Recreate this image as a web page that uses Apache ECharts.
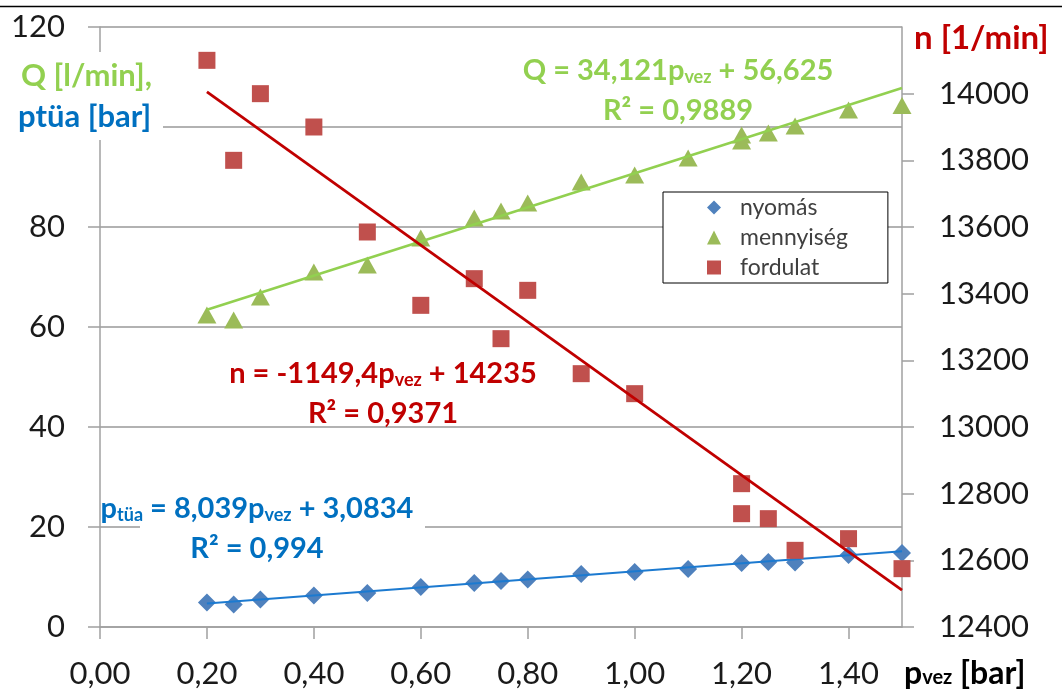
<!DOCTYPE html>
<html>
<head>
<meta charset="utf-8">
<script src="https://cdn.jsdelivr.net/npm/echarts@6/dist/echarts.min.js"></script>
<style>
  html, body { margin: 0; padding: 0; background: #fff; }
  #chart { width: 1062px; height: 691px; }
</style>
</head>
<body>
<div id="chart"></div>
<script>
// ---- data ----
const pNyomas = [0.2, 0.25, 0.3, 0.4, 0.5, 0.6, 0.7, 0.75, 0.8, 0.9, 1.0, 1.1, 1.2, 1.25, 1.3, 1.4, 1.5];
const nyomas  = [4.9, 4.5, 5.5, 6.3, 6.8, 8.0, 8.8, 9.2, 9.5, 10.6, 11.0, 11.6, 12.8, 13.0, 12.9, 14.4, 14.8];

const pMenny = [0.2, 0.25, 0.3, 0.4, 0.5, 0.6, 0.7, 0.75, 0.8, 0.9, 1.0, 1.1, 1.2, 1.2, 1.25, 1.3, 1.4, 1.5];
const menny  = [62.4, 61.4, 66.0, 71.0, 72.4, 77.8, 81.8, 83.2, 84.8, 89.0, 90.4, 93.8, 97.2, 98.4, 98.8, 100.2, 103.4, 104.3];

const pFord = [0.2, 0.25, 0.3, 0.4, 0.5, 0.6, 0.7, 0.75, 0.8, 0.9, 1.0, 1.2, 1.2, 1.25, 1.3, 1.4, 1.5];
const ford  = [14100, 13800, 14000, 13900, 13585, 13365, 13445, 13265, 13410, 13160, 13100, 12830, 12740, 12725, 12630, 12665, 12575];

// trendline coefficients as printed on the chart
const trendNyomas = { slope: 8.039, intercept: 3.0834 };
const trendMenny  = { slope: 34.121, intercept: 56.625 };
const trendFord   = { slope: -1149.4, intercept: 14235 };
const trendRange  = [0.2, 1.5];

const legendNames = ['nyomás', 'mennyiség', 'fordulat'];

const zip = (xs, ys) => xs.map((x, i) => [x, ys[i]]);
const trend = (c) => trendRange.map(x => [x, c.slope * x + c.intercept]);

const FONT = 'Lato, "Open Sans", sans-serif';
const axisGray = '#a0a0a0';

const chart = echarts.init(document.getElementById('chart'), null, { renderer: 'canvas' });

const eqRich = (color, big, small) => ({
  m: { fontFamily: FONT, fontWeight: 'bold', fontSize: big || 29, fill: color, lineHeight: 30, verticalAlign: 'top' },
  s: { fontFamily: FONT, fontWeight: 'bold', fontSize: small || 18, fill: color, lineHeight: 12, verticalAlign: 'bottom' },
  r: { fontFamily: FONT, fontWeight: 'bold', fontSize: big || 29, fill: color, lineHeight: 50, verticalAlign: 'middle' }
});

const option = {
  backgroundColor: '#ffffff',
  animation: false,
  grid: { left: 100, right: 160, top: 27, bottom: 64, containLabel: false },
  legend: {
    orient: 'vertical',
    left: 663, top: 192,
    data: [
      { name: legendNames[0], icon: 'diamond' },
      { name: legendNames[1], icon: 'triangle' },
      { name: legendNames[2], icon: 'rect' }
    ],
    itemWidth: 14, itemHeight: 14, itemGap: 7,
    padding: [4, 40, 4, 44],
    backgroundColor: '#ffffff',
    borderColor: '#000000', borderWidth: 1,
    textStyle: { fontFamily: FONT, fontSize: 23, color: '#404040', padding: [0, 0, 0, 14] },
    selectedMode: false
  },
  xAxis: {
    type: 'value', min: 0, max: 1.5, interval: 0.2,
    axisLine: { show: true, lineStyle: { color: axisGray, width: 1.5 } },
    axisTick: { show: true, length: 12, inside: false, lineStyle: { color: axisGray, width: 1.5 } },
    splitLine: { show: false },
    axisLabel: {
      margin: 31, fontFamily: FONT, fontSize: 31, color: '#1a1a1a',
      showMaxLabel: false,
      formatter: v => v.toFixed(2).replace('.', ',')
    }
  },
  yAxis: [
    {
      type: 'value', min: 0, max: 120, interval: 20, position: 'left',
      axisLine: { show: true, lineStyle: { color: axisGray, width: 1.5 } },
      axisTick: { show: true, length: 12, inside: false, lineStyle: { color: axisGray, width: 1.5 } },
      splitLine: { show: true, lineStyle: { color: '#999999', width: 1.5 } },
      axisLabel: { margin: 35, fontFamily: FONT, fontSize: 31, color: '#1a1a1a', formatter: v => String(v) }
    },
    {
      type: 'value', min: 12400, max: 14200, interval: 200, position: 'right',
      axisLine: { show: true, lineStyle: { color: axisGray, width: 1.5 } },
      axisTick: { show: true, length: 12, inside: false, lineStyle: { color: axisGray, width: 1.5 } },
      splitLine: { show: false },
      axisLabel: { margin: 37, fontFamily: FONT, fontSize: 31, color: '#1a1a1a', showMaxLabel: false, formatter: v => String(v) }
    }
  ],
  series: [
    {
      name: legendNames[0], type: 'scatter', yAxisIndex: 0,
      symbol: 'diamond', symbolSize: 18,
      itemStyle: { color: '#4f81bd', opacity: 1 },
      data: zip(pNyomas, nyomas), z: 2
    },
    {
      name: 'trend-nyomas', type: 'line', yAxisIndex: 0, symbol: 'none',
      lineStyle: { color: '#1c7ad0', width: 2 },
      data: trend(trendNyomas), z: 3, silent: true
    },
    {
      name: legendNames[1], type: 'scatter', yAxisIndex: 0,
      symbol: 'triangle', symbolSize: [19, 17],
      itemStyle: { color: '#9bbb59', opacity: 1 },
      data: zip(pMenny, menny), z: 4
    },
    {
      name: 'trend-menny', type: 'line', yAxisIndex: 0, symbol: 'none',
      lineStyle: { color: '#92d050', width: 2.5 },
      data: trend(trendMenny), z: 5, silent: true
    },
    {
      name: legendNames[2], type: 'scatter', yAxisIndex: 1,
      symbol: 'rect', symbolSize: 17,
      itemStyle: { color: '#c0504d', opacity: 1 },
      data: zip(pFord, ford), z: 6
    },
    {
      name: 'trend-ford', type: 'line', yAxisIndex: 1, symbol: 'none',
      lineStyle: { color: '#c00000', width: 2.8 },
      data: trend(trendFord), z: 7, silent: true
    }
  ],
  graphic: [
    // top border line
    { type: 'line', shape: { x1: 0, y1: 6.5, x2: 1062, y2: 6.5 }, style: { stroke: '#000', lineWidth: 1.5 }, z: 200 },
    // white box behind left axis title
    { type: 'rect', shape: { x: 0, y: 52, width: 163, height: 88 }, style: { fill: '#fff' }, z: 100 },
    { type: 'text', x: 21, y: 76, z: 101,
      style: { text: 'Q [l/min],', fill: '#92d050', font: 'bold 31px ' + FONT, textVerticalAlign: 'middle' } },
    { type: 'text', x: 18, y: 117, z: 101,
      style: { text: 'ptüa [bar]', fill: '#0070c0', font: 'bold 31px ' + FONT, textVerticalAlign: 'middle' } },
    // right axis title
    { type: 'text', x: 914, y: 38, z: 101,
      style: { text: 'n [1/min]', fill: '#c00000', font: 'bold 33px ' + FONT, textVerticalAlign: 'middle' } },
    // x axis title
    { type: 'text', x: 904, y: 658, z: 101,
      style: {
        text: '{m|p}{s|vez}{m| [bar]}', textVerticalAlign: 'top',
        rich: eqRich('#000000', 32, 20)
      } },
    // green equation
    { type: 'text', x: 678, y: 56, z: 101,
      style: {
        text: '{m|Q = 34,121p}{s|vez}{m| + 56,625}\n{r|R² = 0,9889}',
        textAlign: 'center', textVerticalAlign: 'top',
        rich: eqRich('#92d050')
      } },
    // red equation
    { type: 'text', x: 383, y: 359, z: 101,
      style: {
        text: '{m|n = -1149,4p}{s|vez}{m| + 14235}\n{r|R² = 0,9371}',
        textAlign: 'center', textVerticalAlign: 'top',
        rich: eqRich('#c00000')
      } },
    // white box behind blue equation
    { type: 'rect', shape: { x: 140, y: 496, width: 285, height: 68 }, style: { fill: '#fff' }, z: 100 },
    { type: 'text', x: 257, y: 494, z: 101,
      style: {
        text: '{m|p}{s|tüa}{m| = 8,039p}{s|vez}{m| + 3,0834}\n{r|R² = 0,994}',
        textAlign: 'center', textVerticalAlign: 'top',
        rich: eqRich('#0070c0')
      } }
  ]
};

chart.setOption(option);
</script>
</body>
</html>
